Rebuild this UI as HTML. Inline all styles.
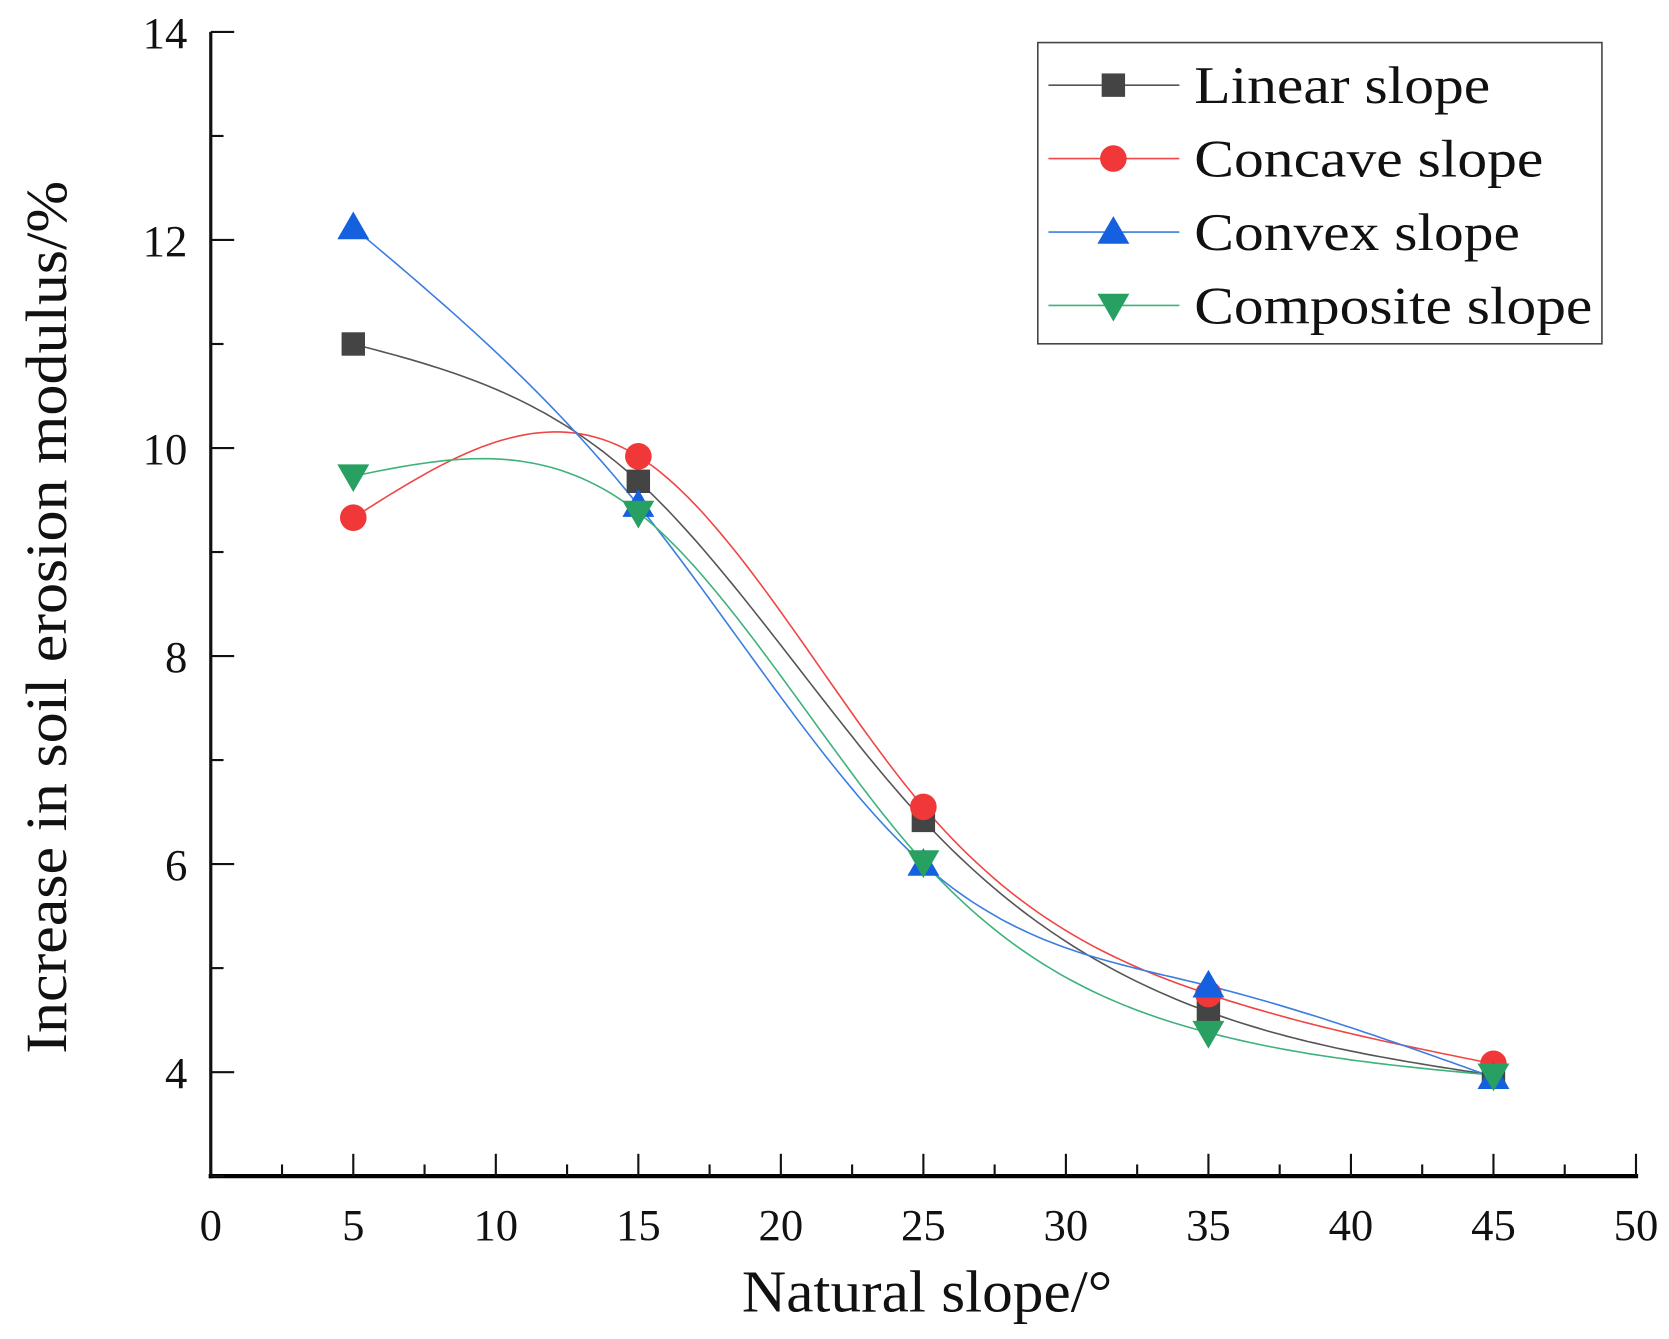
<!DOCTYPE html>
<html><head><meta charset="utf-8"><style>html,body{margin:0;padding:0;background:#fff}svg{display:block}</style></head>
<body>
<svg id="chart" width="1669" height="1339" viewBox="0 0 1568 1258" xmlns="http://www.w3.org/2000/svg" font-family="'Liberation Serif', serif">
<rect width="1568" height="1258" fill="#fff"/>
<g id="series"></g>
<g id="axes"></g>
<text transform="translate(62,580) rotate(-90)" text-anchor="middle" font-size="55" fill="#111" textLength="820" lengthAdjust="spacingAndGlyphs">Increase in soil erosion modulus/%</text>
<text x="871" y="1232" text-anchor="middle" font-size="56" fill="#111" textLength="348" lengthAdjust="spacingAndGlyphs">Natural slope/°</text>
<g>
<rect x="975" y="40" width="530" height="283" fill="#fff" stroke="#444" stroke-width="1.5"/>
<g id="legend-items"></g>
</g>
</svg>
<script>
const xCats = [5, 15, 25, 35, 45];
const linearVals = [11.0, 9.68, 6.42, 4.58, 3.97];
const concaveVals = [9.33, 9.92, 6.55, 4.75, 4.08];
const convexVals = [12.12, 9.45, 6.0, 4.83, 3.95];
const compositeVals = [9.73, 9.38, 6.02, 4.38, 3.97];
const seriesNames = ["Linear slope", "Concave slope", "Convex slope", "Composite slope"];
const xTicks = [0, 5, 10, 15, 20, 25, 30, 35, 40, 45, 50];
const yTicks = [4, 6, 8, 10, 12, 14];

const NS = "http://www.w3.org/2000/svg";
const X0 = 198, X1 = 1537, YB = 1105, YT = 30;
const xMin = 0, xMax = 50, yMin = 3, yMax = 14;
const sx = v => X0 + (v - xMin) / (xMax - xMin) * (X1 - X0);
const sy = v => YB - (v - yMin) / (yMax - yMin) * (YB - YT);
function mk(tag, attrs, parent) { const e = document.createElementNS(NS, tag); for (const k in attrs) e.setAttribute(k, attrs[k]); parent.appendChild(e); return e; }

const axes = document.getElementById('axes');
const yAxis = mk('line', {x1: X0, y1: YT, x2: X0, y2: YB + 2, stroke: '#111', 'stroke-width': 3}, axes);


const xAxis = mk('line', {x1: X0 - 2, y1: YB, x2: X1 + 2, y2: YB, stroke: '#000', 'stroke-width': 4}, axes);


for (let v = 3; v <= 14; v++) {
  const major = yTicks.includes(v);
  const t = mk('line', {x1: X0, y1: sy(v), x2: X0 + (major ? 22 : 12), y2: sy(v), stroke: '#111', 'stroke-width': 2}, axes);
  
  
}
yTicks.forEach(v => {
  const t = mk('text', {x: X0 - 22, y: sy(v) + 15, 'text-anchor': 'end', 'font-size': 42, fill: '#111'}, axes);
  t.textContent = v;
  
  
});
for (let v = 0; v <= 50; v += 2.5) {
  const major = v % 5 === 0;
  const t = mk('line', {x1: sx(v), y1: YB, x2: sx(v), y2: YB - (major ? 21 : 11), stroke: '#111', 'stroke-width': 2}, axes);
  
  
}
xTicks.forEach(v => {
  const t = mk('text', {x: sx(v), y: 1165, 'text-anchor': 'middle', 'font-size': 42, fill: '#111'}, axes);
  t.textContent = v;
  
  
});

function spline(xs, ys) {
  const n = xs.length, h = [], a = [], l = [1], mu = [0], z = [0], c = new Array(n).fill(0), b = [], d = [];
  for (let i = 0; i < n - 1; i++) h.push(xs[i + 1] - xs[i]);
  for (let i = 1; i < n - 1; i++) a[i] = 3 / h[i] * (ys[i + 1] - ys[i]) - 3 / h[i - 1] * (ys[i] - ys[i - 1]);
  for (let i = 1; i < n - 1; i++) { l[i] = 2 * (xs[i + 1] - xs[i - 1]) - h[i - 1] * mu[i - 1]; mu[i] = h[i] / l[i]; z[i] = (a[i] - h[i - 1] * z[i - 1]) / l[i]; }
  z[n - 1] = 0;
  for (let j = n - 2; j >= 0; j--) { c[j] = z[j] - mu[j] * c[j + 1]; b[j] = (ys[j + 1] - ys[j]) / h[j] - h[j] * (c[j + 1] + 2 * c[j]) / 3; d[j] = (c[j + 1] - c[j]) / (3 * h[j]); }
  const pts = [];
  for (let j = 0; j < n - 1; j++) for (let s = 0; s <= 40; s++) { const t = h[j] * s / 40; pts.push([xs[j] + t, ys[j] + b[j] * t + c[j] * t * t + d[j] * t * t * t]); }
  return pts;
}
function marker(kind, cx, cy, color, parent) {
  if (kind === 'square') return mk('rect', {x: cx - 11, y: cy - 11, width: 22, height: 22, fill: color}, parent);
  if (kind === 'circle') return mk('circle', {cx, cy, r: 12.5, fill: color}, parent);
  if (kind === 'up') return mk('polygon', {points: `${cx},${cy - 15} ${cx - 15},${cy + 11} ${cx + 15},${cy + 11}`, fill: color}, parent);
  return mk('polygon', {points: `${cx},${cy + 15} ${cx - 15},${cy - 11} ${cx + 15},${cy - 11}`, fill: color}, parent);
}
const seriesVals = [linearVals, concaveVals, convexVals, compositeVals];
const lineColors = ['#555', '#f04545', '#3a7ee0', '#3db27a'];
const markColors = ['#444', '#f03838', '#1560de', '#27a062'];
const kinds = ['square', 'circle', 'up', 'down'];
const keys = ['linear', 'concave', 'convex', 'composite'];
const legendWidths = [278, 328, 306, 374];
const sg = document.getElementById('series');
seriesVals.forEach((vals, i) => {
  const g = mk('g', {}, sg);
  
  
  const pts = spline(xCats, vals);
  const p = mk('polyline', {points: pts.map(q => sx(q[0]).toFixed(1) + ',' + sy(q[1]).toFixed(1)).join(' '), fill: 'none', stroke: lineColors[i], 'stroke-width': 1.5}, g);
  
  
});
seriesVals.forEach((vals, i) => {
  vals.forEach((v, j) => {
    const m = marker(kinds[i], sx(xCats[j]), sy(v), markColors[i], sg);
    
    
  });
});
const lg = document.getElementById('legend-items');
seriesNames.forEach((name, i) => {
  const y = 80 + i * 69;
  const g = mk('g', {}, lg);
  
  
  mk('line', {x1: 985, y1: y, x2: 1108, y2: y, stroke: lineColors[i], 'stroke-width': 1.5}, g);
  marker(kinds[i], 1046, y, markColors[i], g);
  const t = mk('text', {x: 1122, y: y + 17, 'font-size': 50, fill: '#111', textLength: legendWidths[i], lengthAdjust: 'spacingAndGlyphs'}, g);
  t.textContent = name;
});
</script>
</body></html>
